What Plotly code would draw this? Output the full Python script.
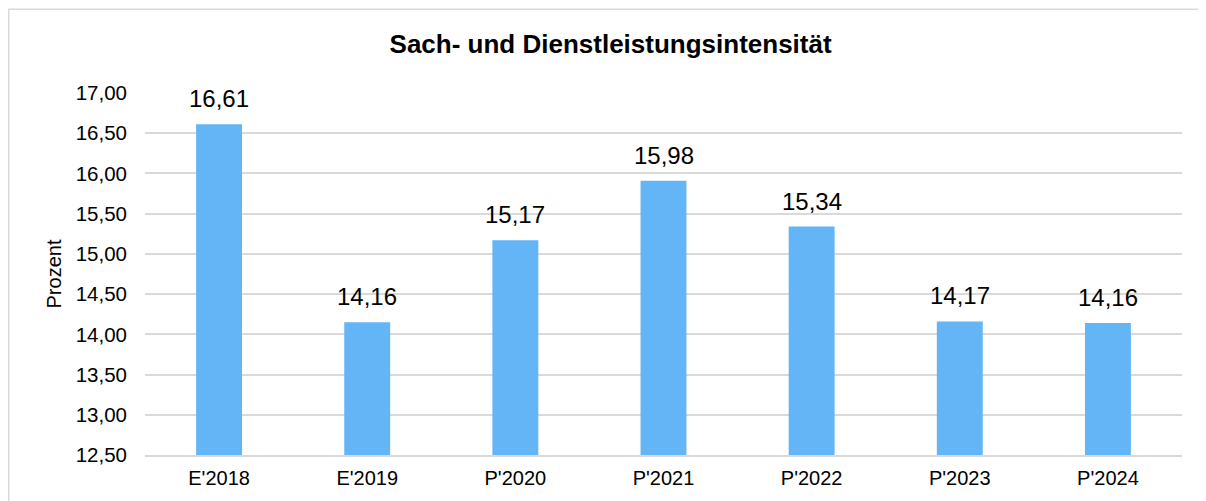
import plotly.graph_objects as go

categories = ["E'2018", "E'2019", "P'2020", "P'2021", "P'2022", "P'2023", "P'2024"]
bar_values = [16.61, 14.15, 15.17, 15.91, 15.34, 14.16, 14.14]
label_texts = ["16,61", "14,16", "15,17", "15,98", "15,34", "14,17", "14,16"]
y_ticks = [12.5, 13.0, 13.5, 14.0, 14.5, 15.0, 15.5, 16.0, 16.5, 17.0]

W, H = 1198, 493
L, R, T, B = 137, 24, 85, 46
pw, ph = W - L - R, H - T - B
FONT = "Liberation Sans, Arial"

fig = go.Figure()
fig.add_trace(go.Bar(
    x=categories, y=bar_values, marker=dict(color="#64B5F6", line=dict(width=0)),
    hoverinfo="skip",
))

for c, v, t in zip(categories, bar_values, label_texts):
    fig.add_annotation(x=c, y=v, text=t, showarrow=False, yanchor="bottom",
                       yshift=10, font=dict(family=FONT, size=24, color="#000000"))

def px(xp):
    return (xp - L) / pw
def py(yp):
    return (H - B - yp) / ph

fig.add_shape(type="rect", xref="paper", yref="paper",
              x0=px(0.75), x1=px(1230), y0=py(520), y1=py(1.2),
              line=dict(color="#D9D9D9", width=1.5), fillcolor="rgba(0,0,0,0)", layer="below")

fig.update_layout(
    width=W, height=H,
    margin=dict(l=L, r=R, t=T, b=B),
    paper_bgcolor="white", plot_bgcolor="white",
    separators=",.",
    bargap=0.69,
    showlegend=False,
    font=dict(family=FONT, color="#000000"),
    title=dict(text="<b>Sach- und Dienstleistungsintensität</b>", x=0.503, xanchor="center",
               y=1 - 36 / H, yanchor="middle", xref="container", yref="container",
               font=dict(size=26, color="#000000")),
    xaxis=dict(showgrid=False, showline=True, linecolor="#D9D9D9", linewidth=1.5,
               tickfont=dict(size=20), ticks="", ticklabelstandoff=4),
    yaxis=dict(range=[12.5, 17.0], tickvals=y_ticks, tickformat=".2f",
               showgrid=True, gridcolor="#D9D9D9", gridwidth=1.5, zeroline=False,
               showline=False, tickfont=dict(size=20.5), ticks="", ticklabelstandoff=17,
               title=dict(text="Prozent", font=dict(size=20), standoff=8)),
)

fig.write_html("out.html")
